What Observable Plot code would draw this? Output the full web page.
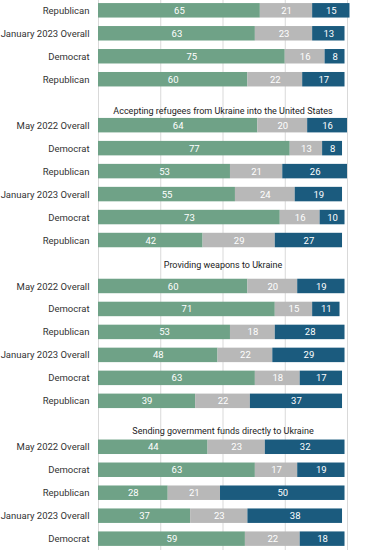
<!DOCTYPE html>
<html><head><meta charset="utf-8">
<script src="https://cdn.jsdelivr.net/npm/d3@7"></script>
<script src="https://cdn.jsdelivr.net/npm/@observablehq/plot@0.6"></script>
<style>body{margin:0;background:#fff;} #chart svg{display:block;}</style>
</head><body><div id="chart"></div>
<script>
// ---- data ----
const categories = ["Support", "Neither", "Oppose"];
const groupTitles = [
  "",
  "Accepting refugees from Ukraine into the United States",
  "Providing weapons to Ukraine",
  "Sending government funds directly to Ukraine"
];
const rowLabels = [
  "Republican", "January 2023 Overall", "Democrat", "Republican",
  "May 2022 Overall", "Democrat", "Republican", "January 2023 Overall", "Democrat", "Republican",
  "May 2022 Overall", "Democrat", "Republican", "January 2023 Overall", "Democrat", "Republican",
  "May 2022 Overall", "Democrat", "Republican", "January 2023 Overall", "Democrat"
];
const rowGroup = [0,0,0,0, 1,1,1,1,1,1, 2,2,2,2,2,2, 3,3,3,3,3];
const support = [65,63,75,60, 64,77,53,55,73,42, 60,71,53,48,63,39, 44,63,28,37,59];
const neither = [21,23,16,22, 20,13,21,24,16,29, 20,15,18,22,18,22, 23,17,21,23,22];
const oppose  = [15,13, 8,17, 16, 8,26,19,10,27, 19,11,28,29,17,37, 32,19,50,38,18];

// ---- build table ----
const keys = [];
const labelOf = new Map();
const titleRows = [];
let prevGroup = rowGroup[0];
rowLabels.forEach((lab, i) => {
  if (rowGroup[i] !== prevGroup) {
    const sk = "spacer" + rowGroup[i];
    keys.push(sk); labelOf.set(sk, "");
    titleRows.push({key: sk, title: groupTitles[rowGroup[i]]});
    prevGroup = rowGroup[i];
  }
  const k = "row" + i;
  keys.push(k); labelOf.set(k, lab);
});
const series = [support, neither, oppose];
const data = [];
rowLabels.forEach((lab, i) => {
  categories.forEach((c, j) => data.push({key: "row" + i, cat: c, value: series[j][i]}));
});

const colors = ["#6fa287", "#b8b8b8", "#1b5b7e"];
const titleDy = [8, 2, 7];

const chart = Plot.plot({
  width: 365,
  height: 550,
  marginLeft: 98,
  marginRight: 18,
  marginTop: 0,
  marginBottom: 0,
  style: {fontFamily: "Roboto, sans-serif", fontSize: "9.5px", color: "#333", background: "#fff"},
  x: {domain: [0, 100], axis: null},
  y: {domain: keys, range: [-5.43, 554.4], padding: 0.37, align: 0.5, round: false,
      tickSize: 0, tickPadding: 9, tickFormat: k => labelOf.get(k), label: null},
  color: {domain: categories, range: colors},
  marks: [
    Plot.ruleX([0, 25, 50, 75, 100], {stroke: "#d9d9d9", strokeWidth: 1}),
    Plot.barX(data, Plot.stackX({x: "value", y: "key", fill: "cat", order: null})),
    Plot.text(data, Plot.stackX({x: "value", y: "key", z: "cat", order: null,
      text: d => String(d.value), fill: "white", fontSize: 9.5})),
    ...titleRows.map((t, i) => Plot.text([t], {x: () => 50, y: "key", text: "title",
      fill: "#222", fontSize: 9, dy: titleDy[i]}))
  ]
});
document.getElementById("chart").appendChild(chart);
</script>
</body></html>
